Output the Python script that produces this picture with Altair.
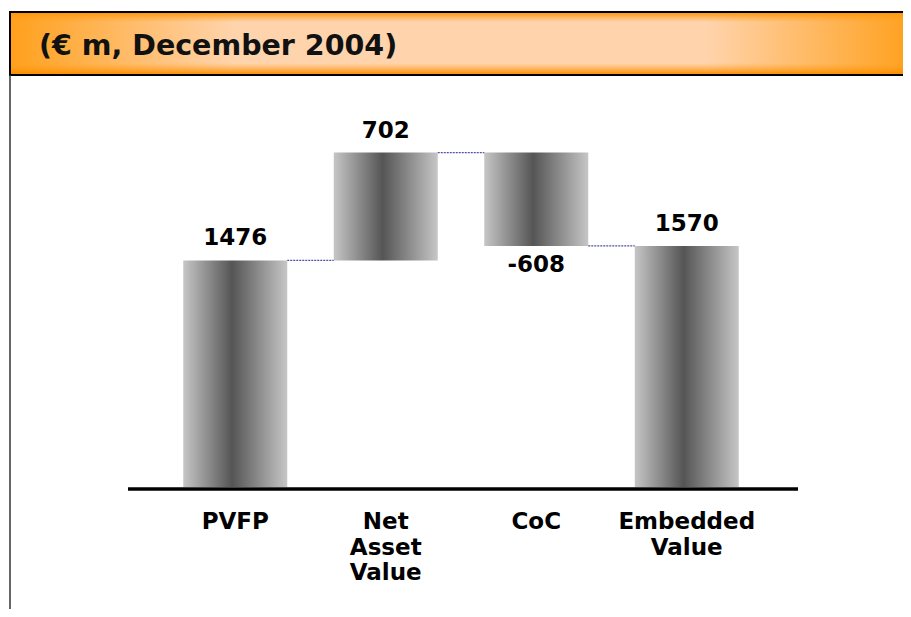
import altair as alt
import pandas as pd

# ---- data ----
categories = ["PVFP", "Net Asset Value", "CoC", "Embedded Value"]
label_text = ["PVFP", "Net\nAsset\nValue", "CoC", "Embedded\nValue"]
values = [1476, 702, -608, 1570]
is_total = [False, False, False, True]
title_text = "(€ m, December 2004)"

rows = []
run = 0
for c, lab, v, t in zip(categories, label_text, values, is_total):
    if t:
        start, end = 0, v
    else:
        start, end = run, run + v
    run = end
    rows.append(dict(cat=c, label=lab, value=v, start=start, end=end,
                     text=str(v), pos=bool(v >= 0)))
df = pd.DataFrame(rows)
conn = pd.DataFrame([dict(cat=rows[i]["cat"], next=rows[i + 1]["cat"], level=rows[i]["end"])
                     for i in range(len(rows) - 1)])
one = pd.DataFrame({"t": [title_text]})

FONT = "DejaVu Sans"

xs = alt.Scale(domain=categories, range=[152, 754], paddingInner=0, paddingOuter=0)
ys = alt.Scale(domain=[0, 3120], range=[479, 0], nice=False, zero=False)

orange = "#ffa01c"
peach = "#ffd4ad"
hgrad = alt.LinearGradient(
    gradient="linear", x1=0, x2=1, y1=0, y2=0,
    stops=[alt.GradientStop(color=orange, offset=0),
           alt.GradientStop(color=peach, offset=0.25),
           alt.GradientStop(color=peach, offset=0.77),
           alt.GradientStop(color=orange, offset=1)])
vgrad = alt.LinearGradient(
    gradient="linear", x1=0, x2=0, y1=0, y2=1,
    stops=[alt.GradientStop(color="rgba(255,150,10,0.95)", offset=0),
           alt.GradientStop(color="rgba(255,160,30,0)", offset=0.15),
           alt.GradientStop(color="rgba(255,160,30,0)", offset=0.82),
           alt.GradientStop(color="rgba(250,140,0,0.95)", offset=1)])
bargrad = alt.LinearGradient(
    gradient="linear", x1=0, x2=1, y1=0, y2=0,
    stops=[alt.GradientStop(color="#c6c6c6", offset=0),
           alt.GradientStop(color="#555555", offset=0.47),
           alt.GradientStop(color="#c6c6c6", offset=1)])

header = alt.Chart(one).mark_rect(color=hgrad, stroke="black", strokeWidth=2).encode(
    x=alt.value(2), x2=alt.value(905), y=alt.value(4), y2=alt.value(67))
header_shade = alt.Chart(one).mark_rect(color=vgrad).encode(
    x=alt.value(3), x2=alt.value(905), y=alt.value(5), y2=alt.value(66))
title = alt.Chart(one).mark_text(align="left", baseline="middle", font=FONT,
                                 fontWeight="bold", fontSize=28.5, color="#111111").encode(
    x=alt.value(31), y=alt.value(38), text="t:N")
border = alt.Chart(one).mark_rule(color="#333333", strokeWidth=1.5).encode(
    x=alt.value(2), y=alt.value(67), y2=alt.value(620))

bars = alt.Chart(df).mark_bar(width=104, color=bargrad).encode(
    x=alt.X("cat:N", scale=xs, axis=None),
    y=alt.Y("start:Q", scale=ys, axis=None),
    y2="end:Q")

conns = alt.Chart(conn).mark_rule(color="#5050a8", strokeWidth=1.2, strokeDash=[2, 1],
                                  xOffset=52, x2Offset=-52).encode(
    x=alt.X("cat:N", scale=xs, axis=None),
    x2="next:N",
    y=alt.Y("level:Q", scale=ys, axis=None))

baseline = alt.Chart(one).mark_rule(color="black", strokeWidth=3.5).encode(
    x=alt.value(120), x2=alt.value(790), y=alt.value(481))

vtext = dict(font=FONT, fontWeight="bold", fontSize=23, color="black", baseline="alphabetic")
vals_pos = alt.Chart(df).transform_filter("datum.pos").mark_text(dy=-15, **vtext).encode(
    x=alt.X("cat:N", scale=xs, axis=None),
    y=alt.Y("end:Q", scale=ys, axis=None),
    text="text:N")
vals_neg = alt.Chart(df).transform_filter("!datum.pos").mark_text(dy=26, **vtext).encode(
    x=alt.X("cat:N", scale=xs, axis=None),
    y=alt.Y("end:Q", scale=ys, axis=None),
    text="text:N")

cats = alt.Chart(df).mark_text(font=FONT, fontWeight="bold", fontSize=23, color="black",
                               baseline="alphabetic", lineBreak="\n", lineHeight=25.5).encode(
    x=alt.X("cat:N", scale=xs, axis=None),
    y=alt.value(521),
    text="label:N")

chart = alt.layer(header, header_shade, title, border, bars, conns, baseline,
                  vals_pos, vals_neg, cats).properties(
    width=895, height=601, padding=0,
    autosize=alt.AutoSizeParams(type="none"),
    background="white",
).configure_view(stroke=None)

chart.save("out.html", embed_options={"renderer": "svg", "actions": False})
